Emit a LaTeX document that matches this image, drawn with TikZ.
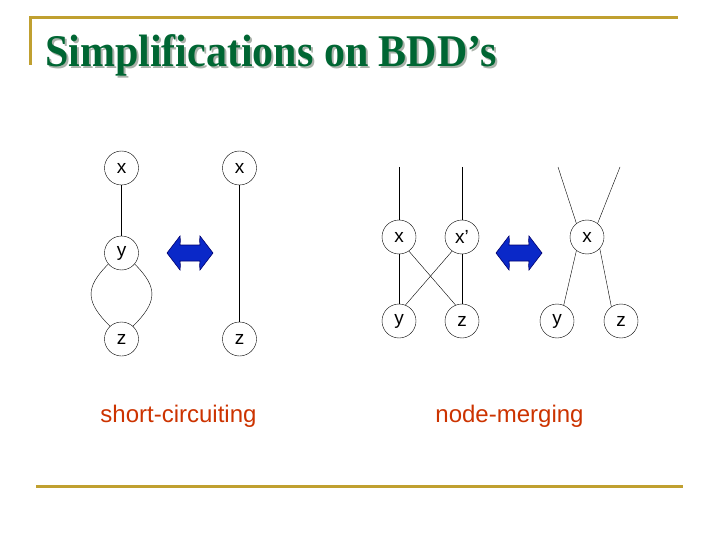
\documentclass[tikz,border=0pt]{standalone}
\usepackage{fontspec}
\setmainfont{Liberation Serif}
\setsansfont{Liberation Sans}
\definecolor{gold}{RGB}{192,160,48}
\definecolor{titlegreen}{RGB}{0,102,51}
\definecolor{shadowgray}{RGB}{170,178,170}
\definecolor{labelred}{RGB}{204,51,0}
\definecolor{arrowblue}{RGB}{10,40,200}
\definecolor{arrowedge}{RGB}{0,0,110}
\begin{document}
\begin{tikzpicture}[x=1pt,y=1pt,
	bdd/.style={circle,draw,thin,minimum size=34pt,inner sep=0pt,font=\sffamily\fontsize{19}{19}\selectfont},
	swap/.pic={\path [draw=arrowedge,fill=arrowblue,semithick,line join=miter]
		(-23,0) -- (-10,17) to [bend left=8] (-10,8) -- (10,8) to [bend left=8] (10,17)
		-- (23,0) -- (10,-17) to [bend left=8] (10,-8) -- (-10,-8) to [bend left=8] (-10,-17) -- cycle;},
	heading/.style={anchor=base west,inner sep=0pt,yscale=1.08,transform shape,font=\bfseries\fontsize{42}{42}\selectfont},
	caption/.style={font=\sffamily\fontsize{24}{24}\selectfont,text=labelred,anchor=base,inner sep=0pt}]
			\useasboundingbox (0,0) rectangle (720,-540);
			% frame lines
			\draw [gold,line width=3pt,line join=miter] (30.5,-65) -- (30.5,-18) -- (678,-18);
			\draw [gold,line width=3pt] (36,-486) -- (683,-486);
			% title
			\node [heading,text=shadowgray] (titleshadow) at (47,-69) {Simplifications on BDD’s};
			\node [heading,text=titlegreen] (title) at (45,-67) {Simplifications on BDD’s};
			% short-circuiting
			\node [bdd] (xa) at (121.5,-168) {x};
			\node [bdd] (ya) at (121.5,-253) {y};
			\node [bdd] (za) at (121.5,-339) {z};
			\node [bdd] (xb) at (239.5,-168) {x};
			\node [bdd] (zb) at (239.5,-339) {z};
			\pic (swapa) at (190,-253) {swap};
			\draw (ya.220) to [out=225,in=135,looseness=1.4] (za.132);
			\draw (ya.320) to [out=315,in=45,looseness=1.4] (za.48);
			\node [caption] (capa) at (178.5,-422) {short-circuiting};
			% node-merging
			\coordinate (sc) at (399,-167);
			\coordinate (sd) at (462,-167);
			\node [bdd] (xc) at (399,-237) {x};
			\node [bdd] (xd) at (462,-237) {x’};
			\node [bdd] (yc) at (399,-321) {y};
			\node [bdd] (zc) at (462,-321) {z};
			\pic (swapb) at (519,-253) {swap};
			\coordinate (se) at (558,-167);
			\coordinate (sf) at (620,-167);
			\node [bdd] (xe) at (587,-237) {x};
			\node [bdd] (ye) at (557,-321) {y};
			\node [bdd] (ze) at (621,-321) {z};
			\foreach \from/\to in {xa/ya, xb/zb, sc/xc, sd/xd, xc/yc, xd/zc}
				\draw (\from) -- (\to);
			\draw (xc.-55) -- (zc.112);
			\draw (xd.235) -- (yc.68);
			\draw (se) -- (xe.128);
			\draw (sf) -- (xe.52);
			\draw (xe.232) -- (ye.67);
			\draw (xe.-42) -- (ze.124);
			\node [caption] (capb) at (509.5,-422) {node-merging};
		\end{tikzpicture}
\end{document}
